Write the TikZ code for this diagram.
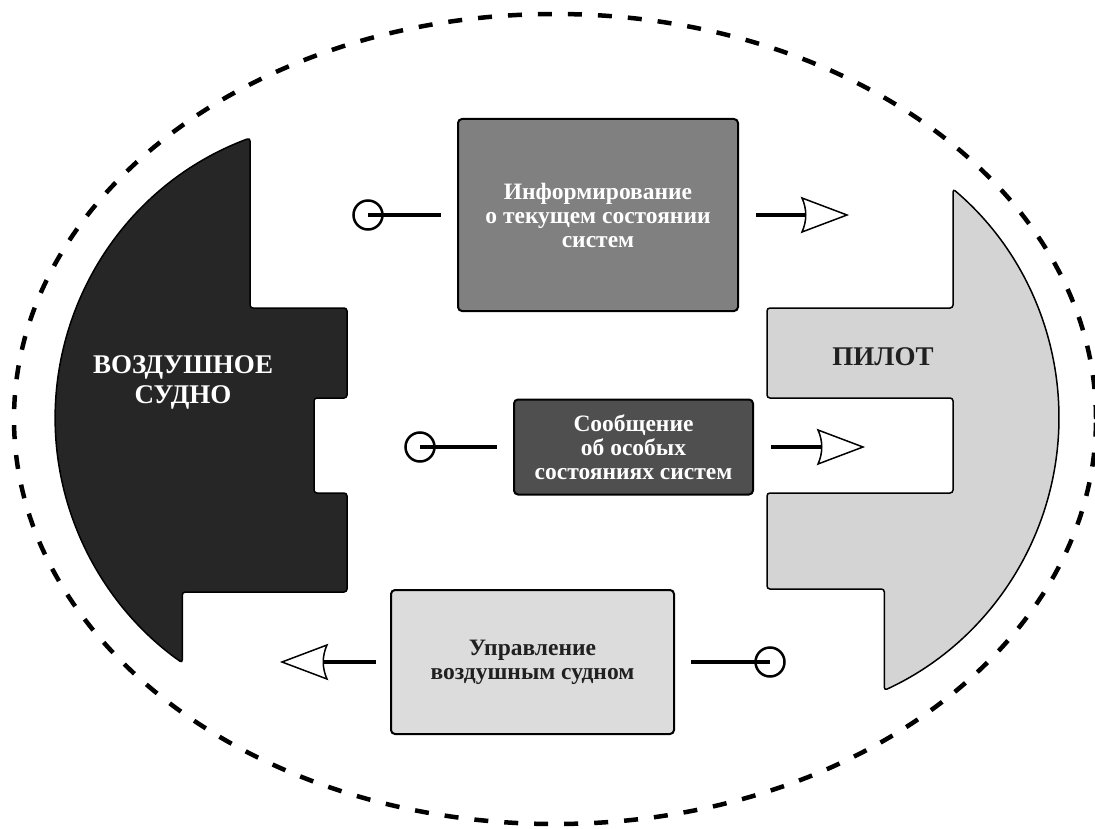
\documentclass[tikz,border=0pt]{standalone}
\usepackage{fontspec}
\setmainfont{Liberation Serif}
\usetikzlibrary{positioning}

\definecolor{craftgray}{HTML}{262626}
\definecolor{pilotgray}{HTML}{D4D4D4}
\definecolor{infogray}{HTML}{808080}
\definecolor{alertgray}{HTML}{4F4F4F}
\definecolor{ctrlgray}{HTML}{DCDCDC}
\definecolor{inkgray}{HTML}{202020}

\begin{document}
\begin{tikzpicture}[x=1pt,y=-1pt,
    box/.style={draw,line width=2pt,rounded corners=4pt,align=center,inner sep=0pt,
      font=\bfseries\fontsize{23.5}{24}\selectfont},
    plug/.style={circle,draw,line width=2.5pt,minimum size=29pt,inner sep=0pt},
    wire/.style={line width=4pt},
    head/.pic={\draw[line width=1.5pt,fill=white] (0,0) -- (-45,-17) .. controls (-40,-6) and (-40,6) .. (-45,17) -- cycle;},
    side/.style={draw,line width=1.5pt,rounded corners=3pt},
    title/.style={align=center,font=\bfseries\fontsize{27}{30}\selectfont}]
  \useasboundingbox (0,0) rectangle (1095,829);
  \draw[line width=4.5pt,dash pattern=on 14pt off 16pt] (555,419) ellipse [x radius=541pt,y radius=405pt];

  % aircraft and pilot
  \path[side,fill=craftgray] (250,138) arc[start angle=110.4,end angle=234.9,radius=299pt]
    |- (347,592) -- (347,493) -- (314,493) -- (314,398) -- (347,398) -- (347,308) -- (250,308) -- cycle;
  \path[side,fill=pilotgray] (953,189) arc[start angle=49.7,end angle=-65.3,radius=300pt]
    |- (767,589) -- (767,493) -- (953,493) -- (953,398) -- (767,398) -- (767,308) -- (953,308) -- cycle;
  \node[title,text=white] (craft) at (183,382) {ВОЗДУШНОЕ\\СУДНО};
  \node[title,text=inkgray] (pilot) at (883,357) {ПИЛОТ};

  % blocks
  \node[box,fill=infogray,text=white,minimum width=280pt,minimum height=192pt] (info) at (598,215)
    {Информирование\\о текущем состоянии\\систем};
  \node[box,fill=alertgray,text=white,minimum width=239pt,minimum height=95pt] (alert) at (633.5,447)
    {Сообщение\\об особых\\состояниях систем};
  \node[box,fill=ctrlgray,text=inkgray,minimum width=283pt,minimum height=144pt] (ctrl) at (532.5,662)
    {Управление\\воздушным судном};

  % connectors
  \node[plug] (p_1) at (368,215) {};
  \node[plug] (p_2) at (420,447) {};
  \node[plug] (p_3) at (770,662) {};
  \coordinate (t_1) at (847,215);
  \coordinate (t_2) at (863,447);
  \coordinate (t_3) at (282,662);
  \draw[wire,shorten >=16pt] (p_1.center) -- (info.west);
  \draw[wire,shorten >=16pt] (p_2.center) -- (alert.west);
  \draw[wire,shorten >=16pt] (p_3.center) -- (ctrl.east);
  \draw[wire,shorten <=17pt,shorten >=41pt] (info.east) -- (t_1);
  \draw[wire,shorten <=17pt,shorten >=41pt] (alert.east) -- (t_2);
  \draw[wire,shorten <=14pt,shorten >=41pt] (ctrl.west) -- (t_3);
  \pic at (t_1) {head};
  \pic at (t_2) {head};
  \pic[rotate=180] at (t_3) {head};
\end{tikzpicture}
\end{document}
